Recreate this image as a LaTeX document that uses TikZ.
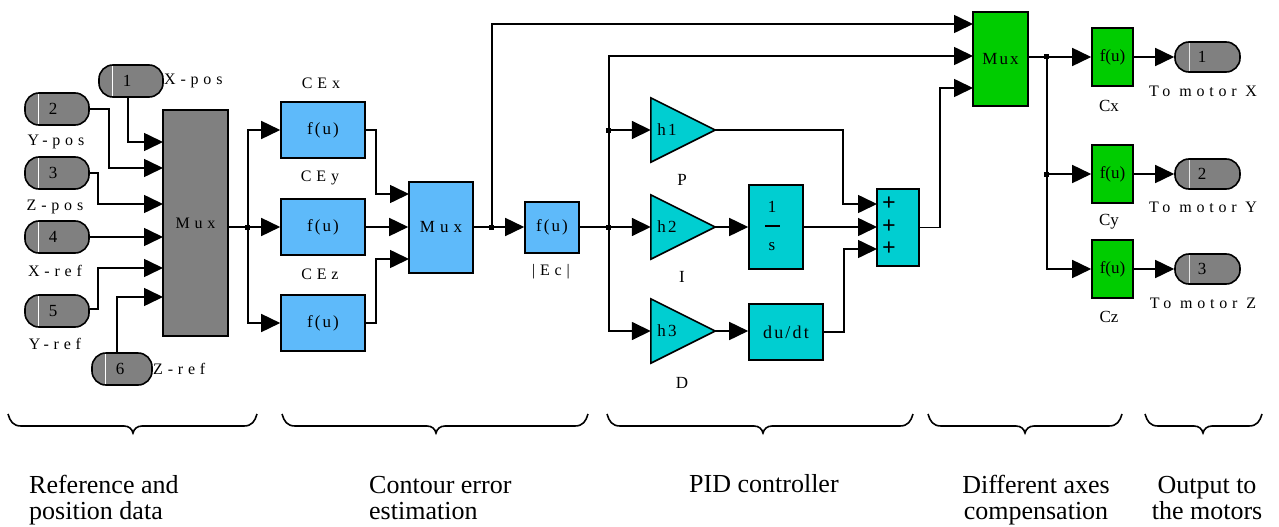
\documentclass[tikz,border=0pt]{standalone}
\usepackage{fontspec}
\setmainfont{Liberation Serif}
\newfontfamily\spfont[LetterSpace=30]{Liberation Serif}
\newfontfamily\spfontb[LetterSpace=12]{Liberation Serif}
\usetikzlibrary{arrows.meta}
\definecolor{sgray}{RGB}{128,128,128}
\definecolor{sblue}{RGB}{94,186,250}
\definecolor{scyan}{RGB}{0,206,209}
\definecolor{sgreen}{RGB}{0,204,0}
\newcommand\mybrace[3]{\draw[bracestyle] (#1,414) .. controls (#1+2,421) and (#1+5,426) .. (#1+13,426) -- (#3-9,426) .. controls (#3-4,426) and (#3-1,429) .. (#3,433) .. controls (#3+1,429) and (#3+4,426) .. (#3+9,426) -- (#2-13,426) .. controls (#2-5,426) and (#2-2,421) .. (#2,414);}
\begin{document}
\begin{tikzpicture}[x=1pt,y=-1pt,
 wire/.style={line width=1.6pt},
 arr/.style={wire,-{Triangle[length=19pt,width=18pt]}},
 blk/.style={draw,line width=1.6pt,inner sep=0pt},
 port/.style={blk,fill=sgray,rounded corners=14pt,minimum height=32pt},
 pnum/.style={inner sep=0pt,font=\fontsize{17}{17}\selectfont},
 lab/.style={inner sep=0pt,font=\spfont\fontsize{16}{16}\selectfont},
 btxt/.style={inner sep=0pt,font=\spfontb\fontsize{17}{17}\selectfont},
 gtxt/.style={inner sep=0pt,font=\fontsize{17}{17}\selectfont},
 big/.style={inner sep=0pt,font=\fontsize{26}{25.5}\selectfont},
 plus/.style={inner sep=0pt,font=\fontsize{24}{24}\selectfont\bfseries},
 bracestyle/.style={line width=1.6pt},
 dot/.style={fill=black}]
\fill[white] (0,0) rectangle (1279,527);
% ---------- inports
\node[port,minimum width=64pt] (p1) at (131,81) {};
\node[port,minimum width=64pt] (p2) at (57,109) {};
\node[port,minimum width=64pt] (p3) at (57,173) {};
\node[port,minimum width=64pt] (p4) at (57,237) {};
\node[port,minimum width=64pt] (p5) at (57,311) {};
\node[port,minimum width=60pt] (p6) at (122,369) {};
\foreach \p/\n in {p1/1,p2/2,p3/3,p4/4,p5/5,p6/6}{
  \draw[white,line width=1pt] ([xshift=14pt,yshift=-2pt]\p.north west) -- ([xshift=14pt,yshift=2pt]\p.south west);
  \node[pnum] at ([xshift=29pt]\p.west) {\n};
}
\node[lab,anchor=west] at (164,81) {X-pos};
\node[lab] at (56,142) {Y-pos};
\node[lab] at (55,207) {Z-pos};
\node[lab] at (55,271) {X-ref};
\node[lab] at (55,344) {Y-ref};
\node[lab,anchor=west] at (153,369) {Z-ref};
% ---------- first mux
\node[blk,fill=sgray,minimum width=65pt,minimum height=226pt,font=\spfont\fontsize{16}{16}\selectfont] (mux1) at (195.5,223) {Mux};
\coordinate (m1a) at (163,142);
\coordinate (m1b) at (163,168);
\coordinate (m1c) at (163,204);
\coordinate (m1d) at (163,237);
\coordinate (m1e) at (163,268);
\coordinate (m1f) at (163,297);
\draw[arr] ([xshift=-3pt]p1.south) |- (m1a);
\draw[arr] (p2.east) -- ++(19,0) |- (m1b);
\draw[arr] (p3.east) -- ++(8,0) |- (m1c);
\draw[arr] (p4.east) -- (m1d);
\draw[arr] ([yshift=2pt]p5.east) -- ++(8,0) |- (m1e);
\draw[arr] ([xshift=-5pt]p6.north) |- (m1f);
% ---------- contour error
\coordinate (j1) at (248,227);
\node[blk,fill=sblue,minimum width=84pt,minimum height=56pt,font=\spfontb\fontsize{17}{17}\selectfont] (cex) at (323,130) {f(u)};
\node[blk,fill=sblue,minimum width=84pt,minimum height=56pt,font=\spfontb\fontsize{17}{17}\selectfont] (cey) at (323,227) {f(u)};
\node[blk,fill=sblue,minimum width=84pt,minimum height=56pt,font=\spfontb\fontsize{17}{17}\selectfont] (cez) at (323,323) {f(u)};
\node[lab] at (321,83) {CEx};
\node[lab] at (320,178) {CEy};
\node[lab] at (320,274) {CEz};
\draw[wire] (mux1.east |- j1) -- (j1);
\draw[arr] (j1) |- (cex.west);
\draw[arr] (j1) -- (cey.west);
\draw[arr] (j1) |- (cez.west);
\node[blk,fill=sblue,minimum width=64pt,minimum height=91pt,font=\spfont\fontsize{17}{17}\selectfont] (mux2) at (441,227.5) {Mux};
\coordinate (m2a) at (409,194);
\coordinate (m2c) at (409,259);
\draw[arr] (cex.east) -- ++(10,0) |- (m2a);
\draw[arr] (cey.east) -- (mux2.west |- cey.east);
\draw[arr] (cez.east) -- ++(10,0) |- (m2c);
\coordinate (j2) at (492,227);
\node[blk,fill=sblue,minimum width=54pt,minimum height=51pt,font=\spfontb\fontsize{17}{17}\selectfont] (ec) at (552,227.5) {f(u)};
\node[lab] at (551,272) {|Ec|};
\draw[wire] (mux2.east |- j2) -- (j2);
\draw[arr] (j2) -- (ec.west |- j2);
% ---------- PID
\coordinate (j3) at (609,227);
\coordinate (j3t) at (609,130);
\foreach \h/\y in {h1/130,h2/227,h3/331}{
  \node[minimum width=64pt,minimum height=64pt,inner sep=0pt] (\h) at (683,\y) {};
  \filldraw[fill=scyan,line width=1.6pt,line join=miter] (\h.north west) -- (\h.east) -- (\h.south west) -- cycle;
}
\node[btxt] at (667,130) {h1};
\node[btxt] at (667,227) {h2};
\node[btxt] at (667,331) {h3};
\node[gtxt] at (682,180) {P};
\node[gtxt] at (682,277) {I};
\node[gtxt] at (682,383) {D};
\draw[wire] (ec.east |- j3) -- (j3);
\draw[arr] (j3) -- (h2.west);
\draw[arr] (j3t) -- (h1.west);
\draw[arr] (j3) |- (h3.west);
\node[blk,fill=scyan,minimum width=54pt,minimum height=84pt] (int) at (776,227) {};
\node[gtxt] at (772,207) {1};
\draw[line width=1.8pt] (765,226) -- (780,226);
\node[gtxt] at (772,247) {s};
\node[blk,fill=scyan,minimum width=74pt,minimum height=56pt,font=\spfontb\fontsize{18}{18}\selectfont] (der) at (786,332) {du/dt};
\draw[arr] (h2.east) -- (int.west);
\draw[arr] (h3.east) -- (der.west |- h3.east);
\node[blk,fill=scyan,minimum width=42pt,minimum height=77pt] (sum) at (898,227.5) {};
\coordinate (s1) at (877,204);
\coordinate (s2) at (877,227);
\coordinate (s3) at (877,249);
\node[plus] at (889,204) {+};
\node[plus] at (889,227) {+};
\node[plus] at (889,249) {+};
\draw[arr] (h1.east) -- ++(128,0) |- (s1);
\draw[arr] (int.east |- s2) -- (s2);
\draw[arr] (der.east) -- ++(20,0) |- (s3);
% ---------- axes compensation
\node[blk,fill=sgreen,minimum width=55pt,minimum height=94pt,font=\spfontb\fontsize{17}{17}\selectfont] (gmux) at (1000.5,59) {Mux};
\coordinate (g1) at (973,24);
\coordinate (g2) at (973,56);
\coordinate (g3) at (973,88);
\draw[arr] (j2) |- (g1);
\draw[arr] (j3) |- (g2);
\draw[arr] (sum.east) -- ++(20,0) |- (g3);
\coordinate (j4) at (1047,57);
\coordinate (j5) at (1047,174);
\foreach \c/\y in {cx/57,cy/174,cz/269}{
  \node[blk,fill=sgreen,minimum width=41pt,minimum height=58pt,font=\fontsize{17}{17}\selectfont] (\c) at (1112.5,\y) {f(u)};
}
\node[gtxt] at (1109,106) {Cx};
\node[gtxt] at (1109,222) {Cy};
\node[gtxt] at (1109,317) {Cz};
\draw[wire] (gmux.east |- j4) -- (j4);
\draw[arr] (j4) -- (cx.west);
\draw[wire] (j4) -- (j5);
\draw[arr] (j5) -- (cy.west);
\draw[arr] (j5) |- (cz.west);
% ---------- outports
\foreach \o/\c/\n/\y in {o1/cx/1/57,o2/cy/2/174,o3/cz/3/269}{
  \node[port,minimum width=65pt,minimum height=30pt] (\o) at (1207.5,\y) {};
  \draw[white!80!gray,line width=1pt] ([xshift=15pt,yshift=-2pt]\o.north west) -- ([xshift=15pt,yshift=2pt]\o.south west);
  \node[pnum] at ([xshift=28pt]\o.west) {\n};
  \draw[arr] (\c.east) -- (\o.west);
}
\node[lab] at (1203,91) {To motor X};
\node[lab] at (1203,207) {To motor Y};
\node[lab] at (1203,303) {To motor Z};
% ---------- junction dots
\foreach \j in {j1,j2,j3,j3t,j4,j5}{
  \fill ([xshift=-1pt]\j) +(-2.5,-2.5) rectangle +(2.5,2.5);
}
% ---------- braces and group captions
\mybrace{8}{257}{133}
\mybrace{282}{588}{436}
\mybrace{607}{913}{763}
\mybrace{928}{1122}{1025}
\mybrace{1145}{1262}{1203}
\node[big,align=left,anchor=base west] at (29,519) {Reference and\\position data};
\node[big,align=left,anchor=base west] at (369,519) {Contour error\\estimation};
\node[big,anchor=base west] at (689,492) {PID controller};
\node[big,align=center,anchor=base] at (1036,519) {Different axes\\compensation};
\node[big,align=center,anchor=base] at (1207,519) {Output to\\the motors};
\end{tikzpicture}
\end{document}
